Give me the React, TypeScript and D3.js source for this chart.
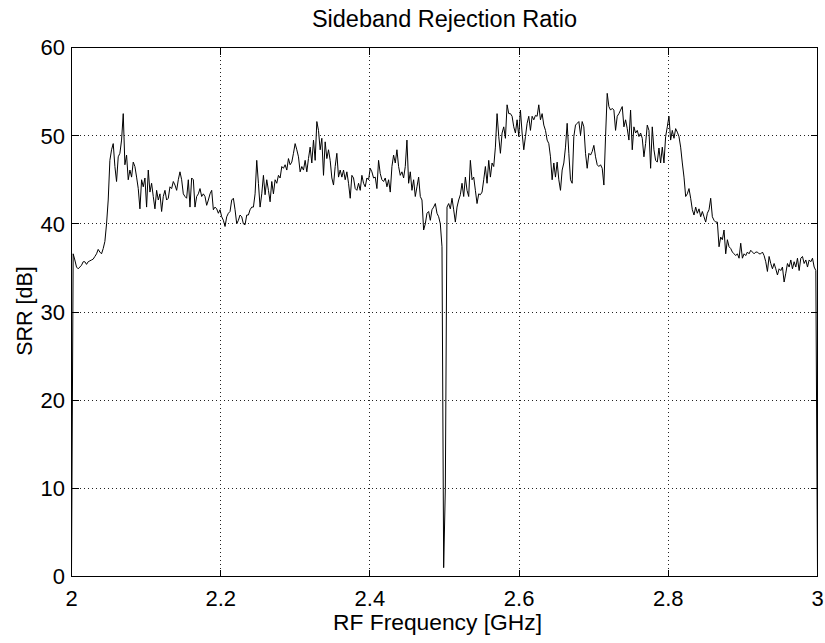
import React from "react";
import * as d3 from "d3";

// Sideband rejection ratio (dB), sampled evenly from 2 GHz to 3 GHz
const srrBandA = [
  0.5, 36.6, 35.9, 35.1, 34.9, 35.1, 35.3, 35.7, 35.7, 35.4,
  35.7, 35.8, 35.9, 36.0, 36.3, 36.6, 37.1, 36.8, 36.6, 37.2,
  38.0, 40.0, 42.7, 47.2, 48.4, 49.1, 46.5, 44.8, 47.6, 48.0,
  49.5, 52.5, 46.7, 47.8, 45.0, 46.1, 45.3, 47.0, 46.5, 45.3,
  44.0, 41.7, 45.0, 44.2, 45.2, 41.9, 46.1, 43.6, 44.6, 43.1,
  41.7, 43.8, 42.7, 43.4, 41.4, 43.1, 43.8, 42.7, 42.9, 44.2,
  44.0, 44.8, 44.4, 43.8, 45.0, 45.9, 45.0, 43.4, 43.1, 42.9,
  45.0, 41.9, 45.2, 45.0, 41.9, 43.1, 43.4, 44.0, 43.1, 43.4,
  43.1, 42.1, 42.7, 43.4, 43.8, 41.6, 41.9, 41.7, 41.2, 41.6,
  40.8, 40.4, 39.7, 40.8, 41.2, 41.4, 42.7, 42.9, 41.6, 40.0,
  40.4, 41.0, 40.8, 40.0, 39.9, 41.0, 41.0, 41.6, 41.9, 41.9, 43.4,
];
const srrBandB = [
  47.2, 44.6, 41.9, 43.4, 45.5, 43.3, 45.0, 43.8, 42.5, 44.8,
  43.4, 45.0, 44.6, 45.5, 45.2, 46.5, 46.3, 46.7, 46.1, 47.4,
  46.7, 47.0, 48.0, 49.1, 48.4, 47.6, 45.9, 46.5, 46.1, 47.2,
  45.9, 47.4, 48.7, 46.9, 49.5, 47.2, 51.6, 50.6, 48.4, 49.7,
  45.5, 49.3, 47.4, 48.4, 47.2, 45.2, 44.4, 46.5, 48.0, 45.3,
  46.1, 45.3, 46.1, 45.0, 45.9, 44.6, 42.9, 45.5, 45.2, 44.0,
  43.8, 44.6, 43.8, 45.5, 44.6, 44.2, 45.2, 45.0, 46.3, 45.9,
  45.2, 45.3, 44.0, 47.2, 45.7, 45.0, 44.8, 45.2, 44.2, 45.0,
  43.6, 46.5, 47.8, 46.9, 48.4, 46.5, 45.5, 45.9, 45.2, 46.5,
  49.5, 44.6, 45.9, 43.8, 45.0, 43.1, 44.2, 45.3, 43.1, 42.7,
  39.3, 40.0, 41.2, 41.4, 40.4, 41.6, 41.9, 42.3, 41.2, 40.8, 40.0,
];
const srrBandC = [
  37.4, 1.0, 10.0, 41.9, 42.3, 41.7, 42.9, 41.6, 40.2, 41.9,
  42.7, 43.3, 44.6, 43.1, 45.3, 43.8, 43.1, 47.2, 45.0, 45.3,
  43.8, 42.3, 43.4, 43.3, 43.6, 45.0, 46.5, 44.6, 47.2, 45.3,
  46.9, 46.5, 48.7, 52.5, 49.9, 48.0, 50.3, 51.0, 49.7, 53.5,
  52.5, 52.5, 52.2, 51.0, 50.3, 51.8, 49.9, 52.9, 50.3, 48.4,
  49.9, 51.4, 52.2, 50.6, 52.2, 51.8, 52.3, 52.2, 53.5, 51.8,
  52.5, 51.2, 50.6, 49.5, 49.1, 47.6, 45.0, 46.9, 45.3, 47.0,
  45.0, 43.8, 46.1, 46.9, 48.7, 51.4, 48.0, 45.0, 44.6, 49.9,
  51.2, 51.4, 51.6, 50.1, 51.6, 51.0, 48.0, 46.3, 48.0, 47.8,
  48.2, 48.9, 47.6, 46.7, 46.5, 46.7, 46.3, 44.4, 49.9, 54.8,
  53.3, 52.9, 53.1, 52.9, 50.6, 52.2, 52.5, 52.9, 53.3, 51.0,
  51.8, 50.8, 49.5, 52.9,
];
const srrBandD = [
  48.4, 51.0, 50.3, 50.6, 49.9, 50.3, 49.7, 47.6, 49.1, 51.2,
  50.6, 46.3, 51.0, 48.4, 47.2, 47.0, 48.6, 46.9, 48.7, 46.9,
  49.9, 51.0, 52.2, 49.5, 50.6, 49.7, 50.8, 50.4, 49.9, 48.7,
  46.9, 45.3, 43.1, 43.4, 44.0, 42.9, 41.6, 41.0, 41.9, 41.2,
  41.7, 40.8, 41.4, 40.8, 40.2, 41.2, 41.6, 42.9, 40.8, 40.4,
  40.2, 40.2, 37.4, 38.5, 38.2, 39.3, 36.6, 38.2, 37.4, 37.2,
  36.8, 36.6, 36.4, 36.6, 36.1, 37.8, 36.1, 36.6, 36.4, 36.8,
  36.6, 37.0, 36.8, 36.6, 36.8, 36.8, 36.6, 36.6, 36.8, 36.4,
  35.7, 34.6, 36.3, 35.5, 34.9, 35.5, 34.9, 34.2, 34.9, 34.7,
  35.1, 33.4, 34.4, 35.5, 35.1, 35.9, 34.9, 35.7, 35.1, 36.1,
  34.7, 36.1, 36.3, 35.5, 35.9, 35.1, 35.9, 35.7, 36.1, 35.1,
  34.7, 0.3,
];

const FREQ_MIN = 2;
const FREQ_MAX = 3;
const xTicks = [2, 2.2, 2.4, 2.6, 2.8, 3];
const yTicks = [0, 10, 20, 30, 40, 50, 60];
const TITLE = "Sideband Rejection Ratio";
const X_LABEL = "RF Frequency [GHz]";
const Y_LABEL = "SRR [dB]";

const srr = [...srrBandA, ...srrBandB, ...srrBandC, ...srrBandD];
const points = srr.map((v, i) => ({
  f: FREQ_MIN + (i * (FREQ_MAX - FREQ_MIN)) / (srr.length - 1),
  v,
}));

const W = 825;
const H = 643;
const L = 71.5;
const R = 817.5;
const T = 47.5;
const B = 576.5;
const FONT = "'Liberation Sans', Arial, Helvetica, sans-serif";
const TICK = 7;

export default function App() {
  const x = d3.scaleLinear().domain([FREQ_MIN, FREQ_MAX]).range([L, R]);
  const y = d3.scaleLinear().domain([0, 60]).range([B, T]);
  const line = d3
    .line<{ f: number; v: number }>()
    .x((d) => x(d.f))
    .y((d) => y(d.v));
  const fmt = (t: number) => String(+t.toFixed(1));
  const px = (v: number) => Math.round(v - 0.5) + 0.5;

  return (
    <svg
      width={W}
      height={H}
      style={{ position: "absolute", left: 0, top: 0, background: "#fff" }}
      fontFamily={FONT}
    >
      <rect x={0} y={0} width={W} height={H} fill="#fff" />
      {/* grid */}
      <g stroke="#222" strokeWidth={1} strokeDasharray="1,3" shapeRendering="crispEdges">
        {xTicks.slice(1, -1).map((t) => (
          <line key={"gx" + t} x1={px(x(t))} x2={px(x(t))} y1={T} y2={B} />
        ))}
        {yTicks.slice(1, -1).map((t) => (
          <line key={"gy" + t} x1={L} x2={R} y1={px(y(t))} y2={px(y(t))} />
        ))}
      </g>
      {/* data */}
      <path d={line(points) || ""} fill="none" stroke="#000" strokeWidth={1} />
      {/* box and ticks */}
      <g stroke="#000" strokeWidth={1} shapeRendering="crispEdges">
        <rect x={L} y={T} width={R - L} height={B - T} fill="none" />
        {xTicks.map((t) => (
          <g key={"tx" + t}>
            <line x1={px(x(t))} x2={px(x(t))} y1={B} y2={B - TICK} />
            <line x1={px(x(t))} x2={px(x(t))} y1={T} y2={T + TICK} />
          </g>
        ))}
        {yTicks.map((t) => (
          <g key={"ty" + t}>
            <line x1={L} x2={L + TICK} y1={px(y(t))} y2={px(y(t))} />
            <line x1={R} x2={R - TICK} y1={px(y(t))} y2={px(y(t))} />
          </g>
        ))}
      </g>
      {/* tick labels */}
      <g fontSize={22} fill="#000">
        {xTicks.map((t) => (
          <text key={"lx" + t} x={x(t)} y={606} textAnchor="middle">
            {fmt(t)}
          </text>
        ))}
        {yTicks.map((t) => (
          <text key={"ly" + t} x={65} y={y(t)} dy="0.36em" textAnchor="end">
            {fmt(t)}
          </text>
        ))}
      </g>
      <text x={(L + R) / 2} y={27} textAnchor="middle" fontSize={23.5} fill="#000">
        {TITLE}
      </text>
      <text x={(L + R) / 2 - 7} y={630} textAnchor="middle" fontSize={22.8} fill="#000">
        {X_LABEL}
      </text>
      <text
        transform={`translate(32, ${(T + B) / 2 - 1}) rotate(-90)`}
        textAnchor="middle"
        fontSize={21.5}
        fill="#000"
      >
        {Y_LABEL}
      </text>
    </svg>
  );
}
